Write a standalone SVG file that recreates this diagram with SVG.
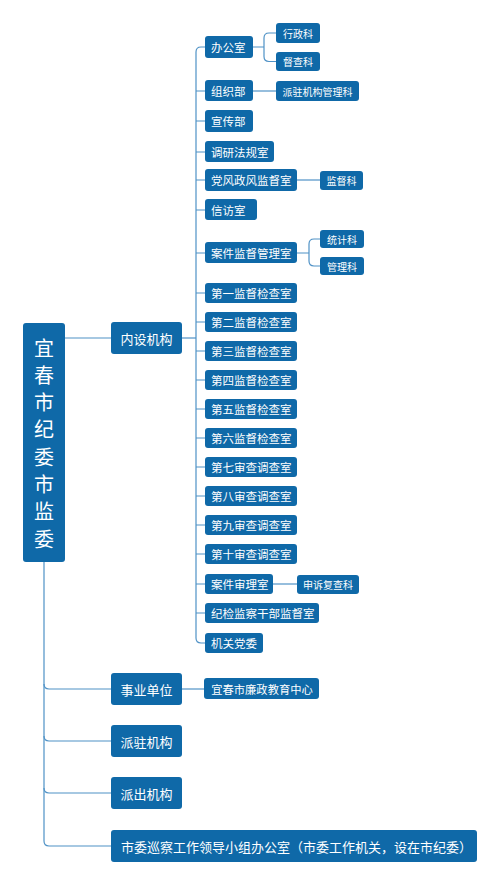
<svg xmlns="http://www.w3.org/2000/svg" width="500" height="885" viewBox="0 0 500 885">
<style>
.n rect{fill:#0f69a8;}
.n text{fill:#fff;font-family:"Noto Sans CJK SC","Noto Sans",sans-serif;dominant-baseline:central;}
.t1 text{font-size:13px;}
.t2 text{font-size:11.5px;}
.t3 text{font-size:10px;}
.c path{fill:none;stroke:#4f92c6;stroke-width:1.2;}
</style>
<rect width="500" height="885" fill="#fff"/>
<g class="c" id="connectors">
<path d="M65,338 H111"/>
<path d="M182,338 H196"/>
<path d="M205,47 H201 Q196,47 196,52 V638 Q196,643 201,643 H205"/>
<path d="M196,91 H205 M196,121 H205 M196,152 H205 M196,180 H205 M196,210 H205 M196,253 H205 M196,293 H205 M196,322 H205 M196,351 H205 M196,380 H205 M196,409 H205 M196,438 H205 M196,467 H205 M196,496 H205 M196,525 H205 M196,554 H205 M196,584 H205 M196,613 H205"/>
<path d="M253,47 H264 M276,33 H269 Q264,33 264,38 V56.5 Q264,61.5 269,61.5 H276"/>
<path d="M253,91 H276"/>
<path d="M297,180 H320"/>
<path d="M297,253 H309 M320,239 H314 Q309,239 309,244 V261 Q309,266 314,266 H320"/>
<path d="M273,584 H297"/>
<path d="M44,562 V841 Q44,846 49,846 H111"/>
<path d="M44,684 Q44,689 49,689 H111 M44,736 Q44,741 49,741 H111 M44,788 Q44,793 49,793 H111"/>
<path d="M182,689 H204"/>
</g>
<g class="n" id="root"><rect x="23" y="323" width="42" height="239" rx="3"/>
<text x="44" y="347" font-size="20" text-anchor="middle">宜</text>
<text x="44" y="374.3" font-size="20" text-anchor="middle">春</text>
<text x="44" y="401.6" font-size="20" text-anchor="middle">市</text>
<text x="44" y="428.9" font-size="20" text-anchor="middle">纪</text>
<text x="44" y="456.1" font-size="20" text-anchor="middle">委</text>
<text x="44" y="483.4" font-size="20" text-anchor="middle">市</text>
<text x="44" y="510.7" font-size="20" text-anchor="middle">监</text>
<text x="44" y="538" font-size="20" text-anchor="middle">委</text>
</g>
<g class="n t1" id="nsjg"><rect x="111" y="322" width="71" height="32" rx="3"/><text x="146.5" y="338" text-anchor="middle">内设机构</text></g>
<g class="n t1" id="sydw"><rect x="111" y="673" width="71" height="32" rx="3"/><text x="146.5" y="689" text-anchor="middle">事业单位</text></g>
<g class="n t1" id="pzjg"><rect x="111" y="725" width="71" height="32" rx="3"/><text x="146.5" y="741" text-anchor="middle">派驻机构</text></g>
<g class="n t1" id="pcjg"><rect x="111" y="777" width="71" height="32" rx="3"/><text x="146.5" y="793" text-anchor="middle">派出机构</text></g>
<g class="n t1" id="xcb"><rect x="111" y="830" width="366" height="32" rx="3"/><text x="121" y="846">市委巡察工作领导小组办公室（市委工作机关，设在市纪委）</text></g>
<g class="n t2" id="bgs"><rect x="205" y="36" width="48" height="22" rx="3"/><text x="211" y="47">办公室</text></g>
<g class="n t2" id="zzb"><rect x="205" y="80" width="48" height="21" rx="3"/><text x="211" y="90.5">组织部</text></g>
<g class="n t2" id="xcb2"><rect x="205" y="110" width="48" height="22" rx="3"/><text x="211" y="121">宣传部</text></g>
<g class="n t2" id="yyfg"><rect x="205" y="141" width="69" height="21" rx="3"/><text x="211" y="151.5">调研法规室</text></g>
<g class="n t2" id="dfzf"><rect x="205" y="169" width="92" height="22" rx="3"/><text x="211" y="180">党风政风监督室</text></g>
<g class="n t2" id="xfs"><rect x="205" y="199" width="52" height="21" rx="3"/><text x="211" y="209.5">信访室</text></g>
<g class="n t2" id="ajjd"><rect x="205" y="242" width="92" height="21" rx="3"/><text x="211" y="252.5">案件监督管理室</text></g>
<g class="n t2" id="d1"><rect x="205" y="283" width="92" height="20" rx="3"/><text x="211" y="293">第一监督检查室</text></g>
<g class="n t2" id="d2"><rect x="205" y="312" width="92" height="20" rx="3"/><text x="211" y="322">第二监督检查室</text></g>
<g class="n t2" id="d3"><rect x="205" y="341" width="92" height="20" rx="3"/><text x="211" y="351">第三监督检查室</text></g>
<g class="n t2" id="d4"><rect x="205" y="370" width="92" height="20" rx="3"/><text x="211" y="380">第四监督检查室</text></g>
<g class="n t2" id="d5"><rect x="205" y="399" width="92" height="20" rx="3"/><text x="211" y="409">第五监督检查室</text></g>
<g class="n t2" id="d6"><rect x="205" y="428" width="92" height="20" rx="3"/><text x="211" y="438">第六监督检查室</text></g>
<g class="n t2" id="d7"><rect x="205" y="457" width="92" height="20" rx="3"/><text x="211" y="467">第七审查调查室</text></g>
<g class="n t2" id="d8"><rect x="205" y="486" width="92" height="20" rx="3"/><text x="211" y="496">第八审查调查室</text></g>
<g class="n t2" id="d9"><rect x="205" y="515" width="92" height="20" rx="3"/><text x="211" y="525">第九审查调查室</text></g>
<g class="n t2" id="d10"><rect x="205" y="544" width="92" height="20" rx="3"/><text x="211" y="554">第十审查调查室</text></g>
<g class="n t2" id="ajsl"><rect x="205" y="574" width="68" height="20" rx="3"/><text x="211" y="584">案件审理室</text></g>
<g class="n t2" id="jjjc"><rect x="205" y="603" width="114" height="20" rx="3"/><text x="211" y="613">纪检监察干部监督室</text></g>
<g class="n t2" id="jgdw"><rect x="205" y="633" width="58" height="20" rx="3"/><text x="211" y="643">机关党委</text></g>
<g class="n t3" id="xzk"><rect x="276" y="23" width="44" height="20" rx="3"/><text x="298" y="33" text-anchor="middle">行政科</text></g>
<g class="n t3" id="dck"><rect x="276" y="52" width="44" height="19" rx="3"/><text x="298" y="61.5" text-anchor="middle">督查科</text></g>
<g class="n t3" id="pzgl"><rect x="276" y="81" width="83" height="20" rx="3"/><text x="317.5" y="91" text-anchor="middle">派驻机构管理科</text></g>
<g class="n t3" id="jdk"><rect x="320" y="171" width="43" height="19" rx="3"/><text x="341.5" y="180.5" text-anchor="middle">监督科</text></g>
<g class="n t3" id="tjk"><rect x="320" y="230" width="44" height="18" rx="3"/><text x="342" y="239" text-anchor="middle">统计科</text></g>
<g class="n t3" id="glk"><rect x="320" y="257" width="44" height="18" rx="3"/><text x="342" y="266" text-anchor="middle">管理科</text></g>
<g class="n t3" id="ssfc"><rect x="297" y="575" width="62" height="19" rx="3"/><text x="328" y="584.5" text-anchor="middle">申诉复查科</text></g>
<g class="n" id="lzjy"><rect x="204" y="678" width="115" height="21" rx="3"/><text x="262" y="688.5" font-size="11.3" text-anchor="middle">宜春市廉政教育中心</text></g>
</svg>
